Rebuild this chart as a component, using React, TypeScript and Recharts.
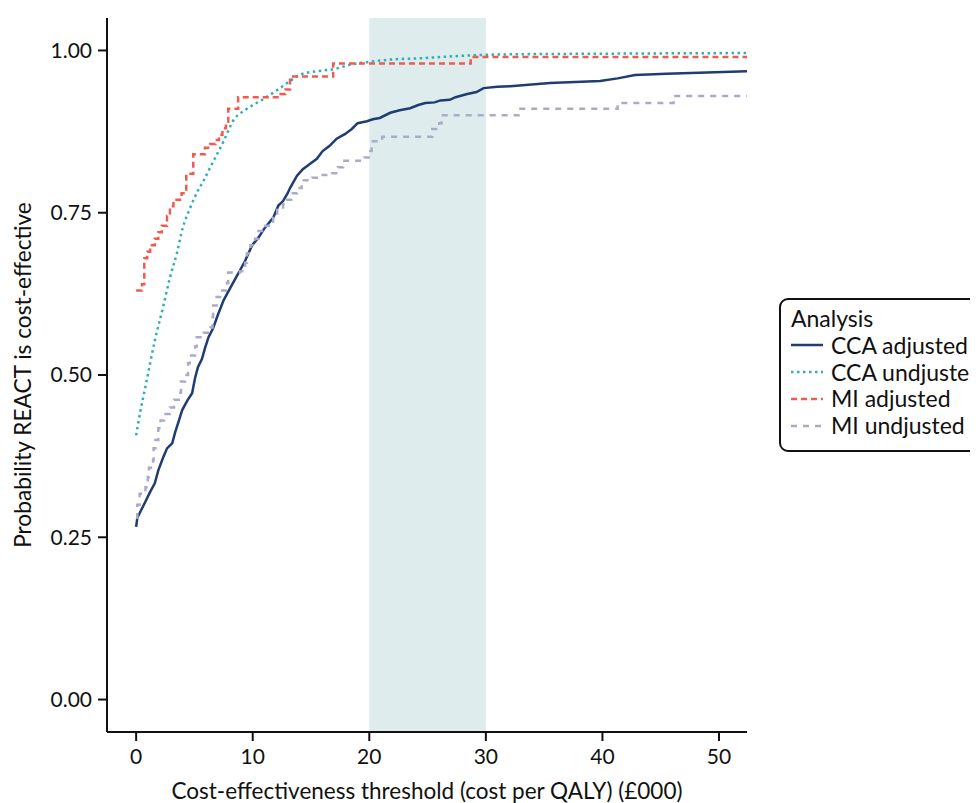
import {
  LineChart,
  Line,
  XAxis,
  YAxis,
  ReferenceArea,
} from "recharts";

// [threshold (£000), probability]
const ccaAdjusted: [number, number][] = [
  [0, 0.266], [0.1, 0.28], [0.35, 0.289], [0.77, 0.304], [1.2, 0.32], [1.6, 0.333],
  [1.9, 0.353], [2.3, 0.372], [2.65, 0.387], [3.1, 0.395], [3.35, 0.412], [3.6, 0.426],
  [3.95, 0.446], [4.4, 0.461], [4.8, 0.472], [5.05, 0.495], [5.3, 0.512], [5.65, 0.525],
  [5.9, 0.541], [6.2, 0.558], [6.6, 0.572], [7.0, 0.592], [7.5, 0.615], [8.1, 0.635],
  [8.5, 0.648], [8.9, 0.661], [9.35, 0.676], [9.95, 0.7], [10.5, 0.712], [11.05, 0.727],
  [11.75, 0.742], [12.2, 0.761], [12.6, 0.768], [13.0, 0.78], [13.2, 0.788], [13.8, 0.807],
  [14.3, 0.817], [14.9, 0.825], [15.5, 0.833], [16.0, 0.845], [16.6, 0.853], [17.2, 0.864],
  [17.9, 0.871], [18.5, 0.879], [19.0, 0.888], [19.8, 0.891], [20.3, 0.894], [20.9, 0.896],
  [21.8, 0.904], [22.6, 0.908], [23.5, 0.911], [24.2, 0.916], [24.8, 0.919], [25.6, 0.92],
  [26.1, 0.923], [26.9, 0.924], [27.4, 0.928], [28.4, 0.933], [29.2, 0.936], [29.8, 0.942],
  [31.0, 0.944], [32.1, 0.945], [35.5, 0.95], [39.8, 0.953], [41.3, 0.957], [42.8, 0.962],
  [45.5, 0.964], [52.4, 0.968],
];

const ccaUnadjusted: [number, number][] = [
  [0, 0.407], [0.35, 0.443], [0.77, 0.48], [1.2, 0.518], [1.6, 0.553], [2.3, 0.604],
  [2.9, 0.65], [3.5, 0.688], [4.0, 0.727], [4.6, 0.756], [5.3, 0.784], [5.8, 0.8],
  [6.5, 0.825], [7.5, 0.86], [8.3, 0.891], [9.5, 0.91], [10.9, 0.925], [12.1, 0.939],
  [13.2, 0.953], [14.1, 0.963], [15.5, 0.968], [16.9, 0.971], [18.6, 0.979], [19.8, 0.982],
  [21.8, 0.986], [24.4, 0.988], [27.2, 0.991], [29.5, 0.993], [32.1, 0.994], [40, 0.995],
  [52.4, 0.996],
];

const miAdjusted: [number, number][] = [
  [0, 0.63], [0.5, 0.64], [0.7, 0.68], [0.95, 0.69], [1.2, 0.7], [1.6, 0.71],
  [1.9, 0.72], [2.2, 0.73], [2.65, 0.745], [2.9, 0.76], [3.2, 0.77], [3.9, 0.78],
  [4.3, 0.81], [4.9, 0.84], [5.9, 0.85], [6.35, 0.856], [6.8, 0.862], [7.1, 0.87],
  [7.4, 0.88], [7.7, 0.89], [7.9, 0.91], [8.75, 0.928], [12.4, 0.933], [12.8, 0.94],
  [13.2, 0.96], [16.9, 0.98], [28.7, 0.99], [52.4, 0.99],
];

const miUnadjusted: [number, number][] = [
  [0, 0.28], [0.1, 0.3], [0.3, 0.317], [0.8, 0.327], [1.0, 0.343], [1.1, 0.357],
  [1.45, 0.369], [1.5, 0.387], [1.65, 0.4], [1.9, 0.418], [2.1, 0.43], [2.4, 0.44],
  [2.9, 0.45], [3.25, 0.462], [3.8, 0.473], [3.85, 0.49], [4.2, 0.5], [4.45, 0.518],
  [4.6, 0.53], [5.05, 0.544], [5.2, 0.558], [5.8, 0.565], [6.35, 0.573], [6.55, 0.589],
  [6.6, 0.607], [6.9, 0.62], [7.2, 0.63], [7.8, 0.642], [7.9, 0.658], [8.9, 0.66],
  [9.35, 0.673], [9.5, 0.687], [9.8, 0.7], [10.2, 0.71], [10.5, 0.722], [11.1, 0.73],
  [11.75, 0.745], [12.1, 0.758], [12.6, 0.763], [12.95, 0.77], [13.3, 0.78], [13.8, 0.788],
  [14.2, 0.8], [15.1, 0.804], [15.8, 0.808], [16.8, 0.811], [17.3, 0.82], [17.75, 0.83],
  [19.6, 0.835], [20.1, 0.845], [20.2, 0.86], [21.1, 0.867], [25.4, 0.879], [26.0, 0.888],
  [26.2, 0.9], [32.8, 0.91], [41.3, 0.919], [46.1, 0.93], [52.4, 0.93],
];

const xTicks = [0, 10, 20, 30, 40, 50];
const yTicks = [0, 0.25, 0.5, 0.75, 1];

const toRows = (pts: [number, number][]) => pts.map(([x, y]) => ({ x, y }));

const series = [
  { name: "CCA adjusted", data: ccaAdjusted, color: "#1f3d72", dash: undefined, type: "linear" },
  { name: "CCA undjusted", data: ccaUnadjusted, color: "#2fb0b4", dash: "2.5 3.5", type: "monotone" },
  { name: "MI adjusted", data: miAdjusted, color: "#ef5b50", dash: "6 4", type: "stepAfter" },
  { name: "MI undjusted", data: miUnadjusted, color: "#aaaacb", dash: "6 6", type: "stepAfter" },
];

const FONT = "Lato, 'Noto Sans', sans-serif";

function YLabel({ viewBox }: any) {
  const cy = viewBox.y + viewBox.height / 2;
  return (
    <text x={14} y={cy} transform={`rotate(-90, 14, ${cy})`} textAnchor="middle"
      dominantBaseline="central" fill="#111" fontSize={22.7} fontFamily={FONT}>
      Probability REACT is cost-effective
    </text>
  );
}

function XLabel({ viewBox }: any) {
  const cx = viewBox.x + viewBox.width / 2;
  return (
    <text x={cx} y={782} textAnchor="middle" dominantBaseline="central"
      fill="#111" fontSize={22.5} fontFamily={FONT}>
      Cost-effectiveness threshold (cost per QALY) (£000)
    </text>
  );
}

export default function App() {
  return (
    <div style={{ position: "relative", width: 970, height: 795, fontFamily: FONT }}>
      <LineChart width={970} height={795} margin={{ top: 10, right: 231, bottom: 0, left: 0 }}>
        <ReferenceArea x1={20} x2={30} fill="#deeced" fillOpacity={1} stroke="none" ifOverflow="hidden" />
        <XAxis
          dataKey="x"
          type="number"
          domain={[-2.5, 52.4]}
          allowDataOverflow
          ticks={xTicks}
          height={71}
          tickSize={9}
          tickMargin={8}
          axisLine={{ stroke: "#111", strokeWidth: 2 }}
          tickLine={{ stroke: "#111", strokeWidth: 2 }}
          tick={{ fill: "#111", fontSize: 21, fontFamily: FONT }}
          label={<XLabel />}
        />
        <YAxis
          dataKey="y"
          type="number"
          domain={[-0.05, 1.05]}
          allowDataOverflow
          ticks={yTicks}
          width={99}
          tickSize={9}
          tickMargin={6}
          tickFormatter={(v: number) => v.toFixed(2)}
          axisLine={{ stroke: "#111", strokeWidth: 2 }}
          tickLine={{ stroke: "#111", strokeWidth: 2 }}
          tick={{ fill: "#111", fontSize: 21, fontFamily: FONT }}
          label={<YLabel />}
        />
        {series.map((s) => (
          <Line
            key={s.name}
            name={s.name}
            data={toRows(s.data)}
            dataKey="y"
            type={s.type as any}
            stroke={s.color}
            strokeWidth={2.5}
            strokeDasharray={s.dash}
            dot={false}
            activeDot={false}
            isAnimationActive={false}
          />
        ))}
      </LineChart>
      <div
        style={{
          position: "absolute",
          left: 771,
          top: 290,
          width: 230,
          height: 154,
          border: "2px solid #111",
          borderRadius: 9,
          boxSizing: "border-box",
          padding: "5px 0 0 10px",
          fontSize: 23,
          lineHeight: "26.8px",
          color: "#111",
          background: "#fff",
        }}
      >
        <div>Analysis</div>
        {series.map((s) => (
          <div key={s.name} style={{ display: "flex", alignItems: "center", whiteSpace: "nowrap" }}>
            <svg width={32} height={10} style={{ marginRight: 8 }}>
              <line x1={0} y1={5} x2={32} y2={5} stroke={s.color} strokeWidth={2.5} strokeDasharray={s.dash} />
            </svg>
            <span>{s.name}</span>
          </div>
        ))}
      </div>
    </div>
  );
}
